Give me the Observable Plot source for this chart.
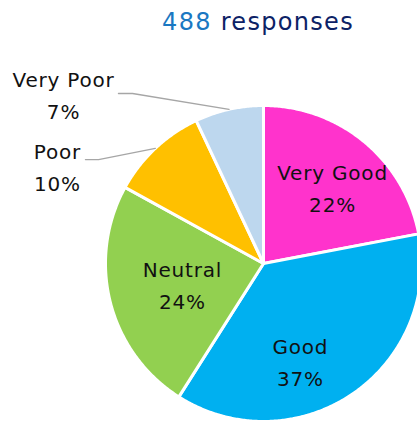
<!DOCTYPE html>
<html><head><meta charset="utf-8">
<script src="https://cdn.jsdelivr.net/npm/d3@7"></script>
<script src="https://cdn.jsdelivr.net/npm/@observablehq/plot@0.6"></script>
<style>
html,body{margin:0;padding:0;background:#fff;overflow:hidden;width:417px;height:421px;}
#title{position:absolute;top:6px;left:258px;transform:translateX(-50%);white-space:nowrap;font-family:"DejaVu Sans",sans-serif;font-size:24px;line-height:32px;letter-spacing:1.3px;}
#title .n{color:#1a78c2;}
#title .t{color:#0c2266;}
#chart{position:absolute;top:48px;left:0;}
#chart text{letter-spacing:0.8px;}
</style></head>
<body>
<div id="title"><span class="n">488</span> <span class="t">responses</span></div>
<div id="chart"></div>
<script>
const categories = ["Very Good", "Good", "Neutral", "Poor", "Very Poor"];
const percents = [22, 37, 24, 10, 7];
const colors = ["#FF33CC", "#00B0F0", "#92D050", "#FFC000", "#BDD7EE"];

// label placement (polar, data units: radius 1 = pie rim; angle degrees clockwise from top)
const labelLayout = {
  "Very Good": {r: 0.636, a: 43.4},
  "Good": {r: 0.680, a: 159.9},
  "Neutral": {r: 0.535, a: 253.5},
  "Poor": {r: 1.433, a: 294.5, elbow: [-1.044, 0.658], end: [-1.127, 0.658]},
  "Very Poor": {r: 1.645, a: 309.7, elbow: [-0.829, 1.076], end: [-0.918, 1.076]}
};

const rad = d => d * Math.PI / 180;
const arcs = d3.pie().sort(null).startAngle(0).endAngle(2 * Math.PI)(percents);

const slicePts = [];
arcs.forEach((a, i) => {
  const cat = categories[i];
  slicePts.push({cat, x: 0, y: 0});
  const n = Math.max(2, Math.ceil((a.endAngle - a.startAngle) / rad(0.5)));
  for (let k = 0; k <= n; k++) {
    const t = a.startAngle + (a.endAngle - a.startAngle) * k / n;
    slicePts.push({cat, x: Math.sin(t), y: Math.cos(t)});
  }
});

const labels = categories.map((c, i) => {
  const L = labelLayout[c];
  return {cat: c, text: `${c}\n${percents[i]}%`, x: L.r * Math.sin(rad(L.a)), y: L.r * Math.cos(rad(L.a))};
});

const leaders = [];
categories.forEach((c, i) => {
  const L = labelLayout[c];
  if (!L.elbow) return;
  const mid = (arcs[i].startAngle + arcs[i].endAngle) / 2;
  leaders.push({cat: c, x: L.end[0], y: L.end[1]});
  leaders.push({cat: c, x: L.elbow[0], y: L.elbow[1]});
  leaders.push({cat: c, x: Math.sin(mid), y: Math.cos(mid)});
});

const cx = 263, cy = 215, R = 158;
const chart = Plot.plot({
  width: 417,
  height: 373,
  margin: 0,
  style: {fontFamily: "DejaVu Sans, sans-serif", background: "transparent", overflow: "visible"},
  x: {domain: [-1, 1], range: [cx - R, cx + R], axis: null},
  y: {domain: [-1, 1], range: [cy + R, cy - R], axis: null},
  color: {domain: categories, range: colors},
  marks: [
    Plot.line(slicePts, {x: "x", y: "y", z: "cat", fill: "cat", stroke: "white", strokeWidth: 3, strokeLinejoin: "round", curve: "linear-closed"}),
    Plot.line(leaders, {x: "x", y: "y", z: "cat", stroke: "#a6a6a6", strokeWidth: 1.3}),
    Plot.text(labels, {x: "x", y: "y", text: "text", fontSize: 20, lineHeight: 1.6, dy: -5, fill: "#111"})
  ]
});
document.getElementById("chart").appendChild(chart);
</script>
</body></html>
